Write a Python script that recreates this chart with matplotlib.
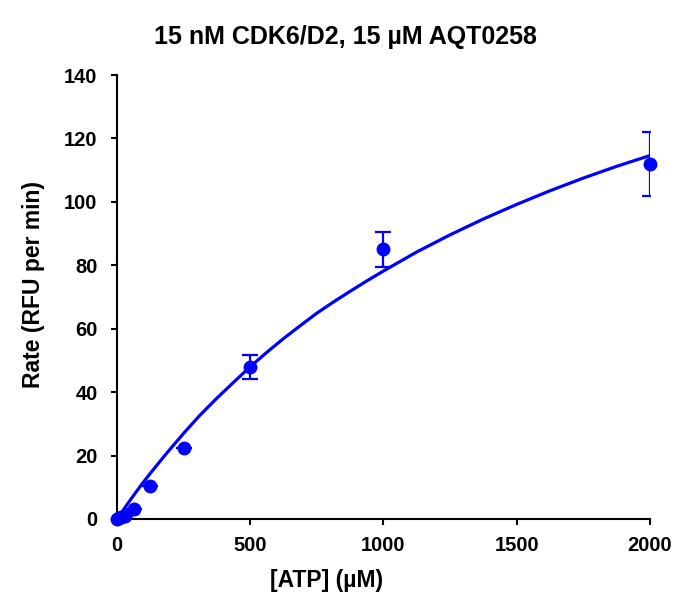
import numpy as np
import matplotlib
matplotlib.use('Agg')
import matplotlib.pyplot as plt

# measured points
atp = [0, 7.8, 15.6, 31.25, 62.5, 125, 250, 500, 1000, 2000]
rate = [0, 0.2, 0.5, 1.0, 3.0, 10.5, 22.5, 48.0, 85.0, 112.0]
err = [0, 0, 0, 0, 0, 0, 0, 3.8, 5.5, 10.0]

# fitted curve
fit_x = [0, 25, 50, 90, 125, 185, 250, 310, 375, 440, 500, 560, 625, 690, 750,
         810, 875, 940, 1000, 1125, 1250, 1375, 1500, 1625, 1750, 1875, 2000]
fit_y = [0, 3.0, 6.0, 10.6, 14.4, 20.6, 27.0, 32.6, 38.1, 43.3, 48.0, 52.4, 56.9,
         61.1, 64.9, 68.3, 71.8, 75.2, 78.2, 84.2, 89.6, 94.6, 99.2, 103.5, 107.5,
         111.2, 114.6]

title = '15 nM CDK6/D2, 15 µM AQT0258'
xticks = [0, 500, 1000, 1500, 2000]
yticks = [0, 20, 40, 60, 80, 100, 120, 140]

plt.rcParams['font.family'] = ['Liberation Sans', 'DejaVu Sans']
plt.rcParams['font.weight'] = 'bold'

fig = plt.figure(figsize=(6.77, 5.94), dpi=100)
ax = fig.add_axes([0.1728, 0.1263, 0.7872, 0.7474])

blue = '#0000FF'
ax.plot(fit_x, fit_y, color=blue, lw=2.3, zorder=2, solid_joinstyle='round')
eb = ax.errorbar(atp, rate, yerr=err, fmt='none', ecolor=blue, elinewidth=1.6,
                 capsize=6, capthick=1.6, zorder=3)
for c in eb[1]:
    c.set_clip_on(True)
ax.plot(atp, rate, 'o', color=blue, ms=9, clip_on=False, zorder=4)

ax.set_xlim(0, 2000)
ax.set_ylim(0, 140)
ax.set_xticks(xticks)
ax.set_yticks(yticks)
for s in ['top', 'right']:
    ax.spines[s].set_visible(False)
for s in ['left', 'bottom']:
    ax.spines[s].set_linewidth(1.5)
ax.tick_params(direction='out', length=4, width=1.5, labelsize=14.5)
ax.tick_params(axis='y', pad=10)
ax.tick_params(axis='x', pad=8)
for lab in ax.get_xticklabels() + ax.get_yticklabels():
    lab.set_fontweight('bold')

fig.text(327 / 677, 1 - 581 / 594, '[ATP] (µM)', fontsize=16.5, fontweight='bold',
         ha='center', va='center')
fig.text(34 / 677, 1 - 284 / 594, 'Rate (RFU per min)', fontsize=16.5,
         fontweight='bold', ha='center', va='center', rotation=90)
fig.text(345 / 677, 1 - 37 / 594, title, fontsize=18, fontweight='bold',
         ha='center', va='center')

fig.savefig('out.png', dpi=100)
